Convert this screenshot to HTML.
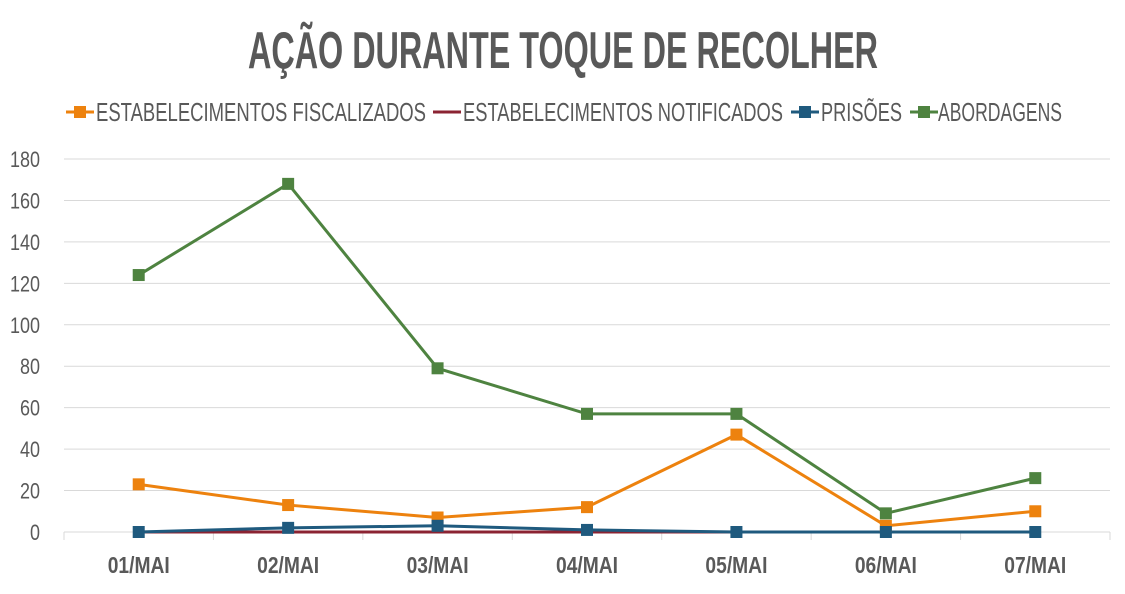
<!DOCTYPE html>
<html><head><meta charset="utf-8"><style>
body{margin:0;background:#fff;width:1125px;height:589px;overflow:hidden}
svg text{font-family:"Liberation Sans Narrow","Liberation Sans",sans-serif;fill:#595959}
</style></head><body>
<svg id="c" width="1125" height="589">
<text x="248" y="68" font-size="52" font-weight="bold" textLength="630" lengthAdjust="spacingAndGlyphs">AÇÃO DURANTE TOQUE DE RECOLHER</text>
<g id="legend"></g>
<g id="grid"></g><g id="marks"></g>
</svg>
<script>
const categories=["01/MAI","02/MAI","03/MAI","04/MAI","05/MAI","06/MAI","07/MAI"];
const fiscalizados=[23,13,7,12,47,3,10];
const notificados=[0,0,0,0,0,0,0];
const prisoes=[0,2,3,1,0,0,0];
const abordagens=[124,168,79,57,57,9,26];
const yTicks=[0,20,40,60,80,100,120,140,160,180];
const seriesNames=["ESTABELECIMENTOS FISCALIZADOS","ESTABELECIMENTOS NOTIFICADOS","PRISÕES","ABORDAGENS"];
const NS="http://www.w3.org/2000/svg";
const x0=64,x1=1110,yb=532,yt=159,ymax=180;
const step=(x1-x0)/categories.length;
const X=i=>x0+step*(i+0.5);
const Y=v=>yb-(v/ymax)*(yb-yt);
function mk(t,a,p){const e=document.createElementNS(NS,t);for(const k in a)e.setAttribute(k,a[k]);p.appendChild(e);return e;}
const grid=document.getElementById('grid'),marks=document.getElementById('marks'),leg=document.getElementById('legend');
yTicks.forEach(v=>{
 const l=mk('line',{x1:x0,x2:x1,y1:Y(v),y2:Y(v),stroke:'#d9d9d9','stroke-width':1},grid);
 
 
 const s=String(v);
 const t=mk('text',{x:40,y:Y(v)+8,'text-anchor':'end','font-size':22,textLength:s.length*10,lengthAdjust:'spacingAndGlyphs'},grid);
 t.textContent=v;
 
 
});
for(let i=0;i<=categories.length;i++){
 const tk=mk('line',{x1:x0+step*i,x2:x0+step*i,y1:yb,y2:yb+8,stroke:'#d9d9d9'},grid);
 
 
}
categories.forEach((c,i)=>{
 const t=mk('text',{x:X(i)-31,y:573,'font-size':23,'font-weight':'bold',textLength:62,lengthAdjust:'spacingAndGlyphs'},grid);
 t.textContent=c;
 
 
});
const series=[[fiscalizados,'#ed820e',true],[notificados,'#8b2332',false],[prisoes,'#1f5a7e',true],[abordagens,'#4e8340',true]];
series.forEach(([d,col,m],si)=>{
 const p=mk('polyline',{points:d.map((v,i)=>X(i)+','+Y(v)).join(' '),fill:'none',stroke:col,'stroke-width':3},marks);
 
 
});
series.forEach(([d,col,m],si)=>{ if(!m)return;
 d.forEach((v,i)=>{
  const r=mk('rect',{x:X(i)-6,y:Y(v)-6,width:12,height:12,fill:col},marks);
  
  
 });
});
const lx=[66,433,791,910],lw=[[96,426],[463,783],[821,902],[938,1062]];
series.forEach(([d,col,m],si)=>{
 const g=mk('g',{},leg);
 
 
 mk('line',{x1:lx[si],x2:lx[si]+28,y1:112,y2:112,stroke:col,'stroke-width':3},g);
 if(m) mk('rect',{x:lx[si]+8,y:106,width:12,height:12,fill:col},g);
 const t=mk('text',{x:lw[si][0],y:121,'font-size':26,textLength:lw[si][1]-lw[si][0],lengthAdjust:'spacingAndGlyphs'},g);
 t.textContent=seriesNames[si];
});
</script>
</body></html>
